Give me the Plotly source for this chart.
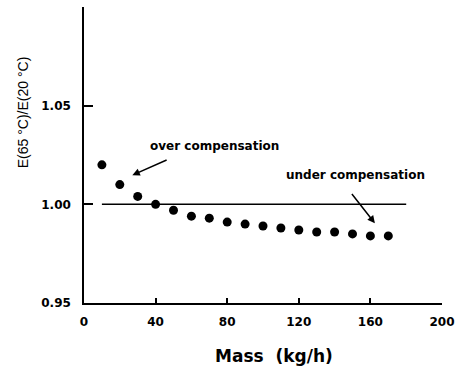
import plotly.graph_objects as go

mass = [10, 20, 30, 40, 50, 60, 70, 80, 90, 100, 110, 120, 130, 140, 150, 160, 170]
ratio = [1.020, 1.010, 1.004, 1.000, 0.997, 0.994, 0.993, 0.991, 0.990, 0.989,
         0.988, 0.987, 0.986, 0.986, 0.985, 0.984, 0.984]
ref_x = [10, 180]
ref_y = [1.0, 1.0]
x_ticks = [0, 40, 80, 120, 160, 200]
y_ticks = [0.95, 1.00, 1.05]
y_tick_text = ["0.95", "1.00", "1.05"]

fig = go.Figure()
fig.add_trace(go.Scatter(x=ref_x, y=ref_y, mode="lines",
                         line=dict(color="black", width=1.5), showlegend=False))
fig.add_trace(go.Scatter(x=mass, y=ratio, mode="markers",
                         marker=dict(color="black", size=9), showlegend=False))

tickfont = dict(family="DejaVu Sans", size=12, color="black", weight="bold")
fig.update_xaxes(range=[0, 200], tickvals=x_ticks, ticks="inside", ticklen=5,
                 tickwidth=1.5, tickcolor="black", showline=True, linecolor="black",
                 linewidth=1.5, showgrid=False, zeroline=False, tickfont=tickfont,
                 ticklabelstandoff=7)
fig.update_yaxes(range=[0.95, 1.10], tickvals=y_ticks, ticktext=y_tick_text,
                 ticks="inside", ticklen=9, tickwidth=1.5, tickcolor="black",
                 showline=True, linecolor="black", linewidth=1.5, showgrid=False,
                 zeroline=False, tickfont=tickfont, ticklabelstandoff=9)

fig.add_annotation(x=0.53, y=-0.22, xref="paper", yref="paper",
                   text="Mass  (kg/h)", showarrow=False,
                   font=dict(family="DejaVu Sans", size=17, color="black", weight="bold"))
fig.add_annotation(x=-0.17, y=0.645, xref="paper", yref="paper",
                   xanchor="center", yanchor="middle",
                   text="E(65 °C)/E(20 °C)", showarrow=False, textangle=-90,
                   font=dict(family="Liberation Sans", size=14, color="black"))

annfont = dict(family="DejaVu Sans", size=12, color="black", weight="bold")
fig.add_annotation(x=27, y=1.0148, ax=47, ay=1.0228, xref="x", yref="y",
                   axref="x", ayref="y", text="", showarrow=True, arrowhead=2,
                   arrowsize=1, arrowwidth=1.5, arrowcolor="black")
fig.add_annotation(x=73, y=1.0298, xref="x", yref="y", text="over compensation",
                   showarrow=False, font=annfont)
fig.add_annotation(x=162.5, y=0.9904, ax=149, ay=1.006, xref="x", yref="y",
                   axref="x", ayref="y", text="", showarrow=True, arrowhead=2,
                   arrowsize=1, arrowwidth=1.5, arrowcolor="black")
fig.add_annotation(x=151.5, y=1.0150, xref="x", yref="y", text="under compensation",
                   showarrow=False, font=annfont)

fig.update_layout(width=462, height=371, margin=dict(l=84, r=17, t=7, b=68),
                  plot_bgcolor="white", paper_bgcolor="white")
fig.write_html("out.html")
